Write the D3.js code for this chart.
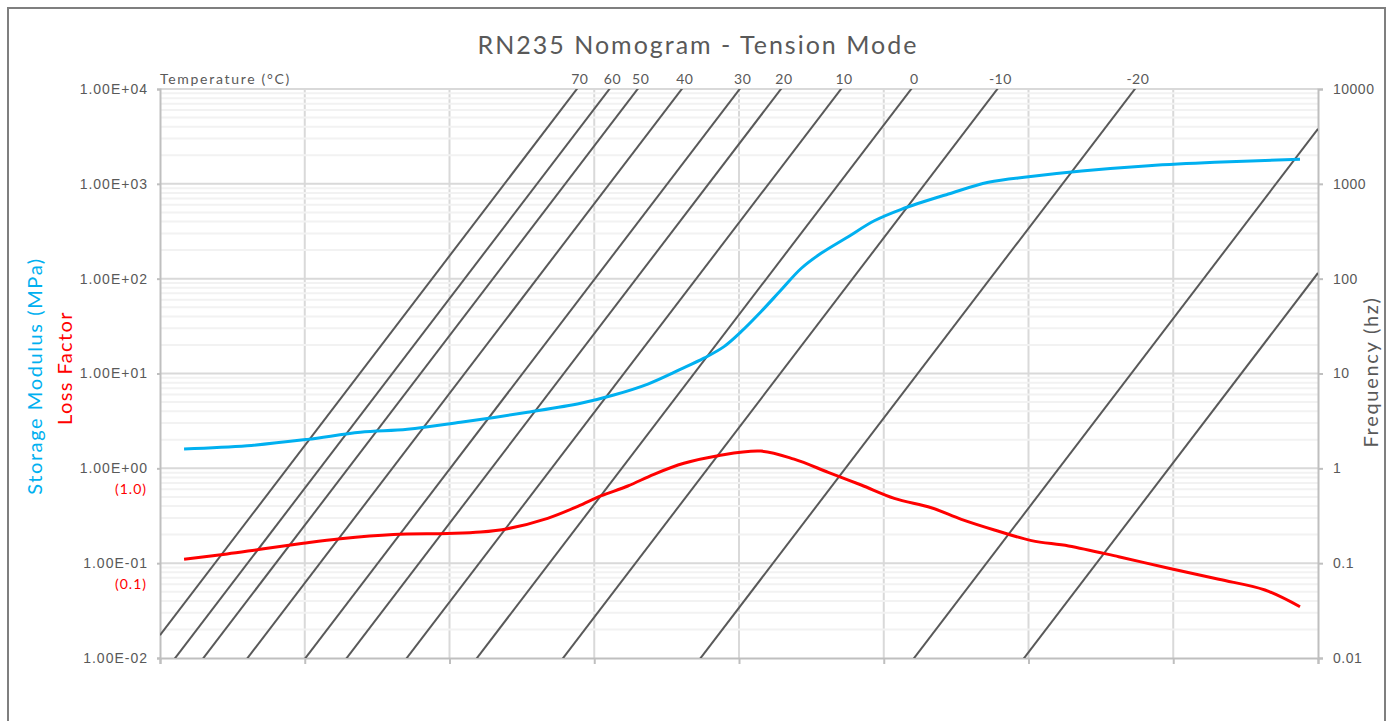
<!DOCTYPE html>
<html>
<head>
<meta charset="utf-8">
<script src="https://cdn.jsdelivr.net/npm/d3@7"></script>
<style>
  html, body { margin: 0; padding: 0; background: #fff; }
  svg { display: block; font-family: Lato, "Open Sans", sans-serif; }
</style>
</head>
<body>
<svg id="chart" width="1392" height="721"></svg>
<script>
// --- data ---
const leftTicks = [1e-2, 1e-1, 1e0, 1e1, 1e2, 1e3, 1e4];
const leftLabels = ['1.00E-02', '1.00E-01', '1.00E+00', '1.00E+01', '1.00E+02', '1.00E+03', '1.00E+04'];
const lossTicks = [1e-1, 1e0];
const lossLabels = ['(0.1)', '(1.0)'];
const rightLabels = ['0.01', '0.1', '1', '10', '100', '1000', '10000'];
const xGridTicks = [1e-8, 1e-6, 1e-4, 1e-2, 1e0, 1e2, 1e4, 1e6, 1e8];

// iso-temperature lines: temperature and log10 of shift factor aT
const temps = [70, 60, 50, 40, 30, 20, 10, 0, -10, -20, -30, -40];
const logShift = [-6.24, -5.79, -5.40, -4.79, -3.99, -3.42, -2.59, -1.62, -0.43, 1.47, 4.42, 5.94];

// storage modulus (MPa) vs reduced frequency
const modFreq = [2.15e-8, 1.60e-7, 1.08e-6, 5.86e-6, 2.62e-5, 1.42e-4, 1.20e-3, 6.50e-3, 1.86e-2, 5.50e-2,
  0.157, 0.328, 0.620, 1.07, 2.01, 3.81, 7.21, 13.6, 32.3, 74.0, 175, 782, 2790, 1.0e4, 5.42e4, 4.58e5, 3.75e6, 5.64e7];
const storageModulus = [1.60, 1.73, 2.02, 2.40, 2.58, 3.06, 3.90, 4.85, 5.93, 7.74,
  11.1, 14.5, 19.2, 27.6, 44.8, 75.9, 128, 185, 277, 408, 539, 781, 1038, 1189, 1366, 1553, 1687, 1814];

// loss factor vs reduced frequency
const lossFreq = [2.15e-8, 8.45e-8, 2.42e-7, 9.52e-7, 3.10e-6, 1.68e-5, 9.37e-5, 2.69e-4, 6.35e-4, 2.27e-3,
  5.92e-3, 1.23e-2, 2.91e-2, 6.67e-2, 0.173, 0.512, 2.01, 5.77, 17.1, 48.9,
  140, 454, 1183, 3380, 1.10e4, 3.58e4, 1.76e5, 8.67e5, 4.26e6, 1.85e7, 5.64e7];
const lossFactor = [0.110, 0.125, 0.140, 0.162, 0.181, 0.201, 0.206, 0.213, 0.231, 0.297,
  0.397, 0.511, 0.651, 0.865, 1.13, 1.36, 1.52, 1.25, 0.908, 0.667,
  0.483, 0.384, 0.290, 0.224, 0.173, 0.152, 0.117, 0.0883, 0.0676, 0.0521, 0.0347];

const grey = '#595959';
const svg = d3.select('#chart');

// chart border
svg.append('rect')
  .attr('x', 8).attr('y', 8)
  .attr('width', 1377).attr('height', 730)
  .attr('fill', '#fff')
  .attr('stroke', '#7f7f7f')
  .attr('stroke-width', 2);

const plotLeft = 160, plotRight = 1318, plotTop = 89, plotBottom = 658;

const x = d3.scaleLog().domain([1e-8, 1e8]).range([plotLeft, plotRight]);
const y = d3.scaleLog().domain([1e-2, 1e4]).range([plotBottom, plotTop]);

// vertical gridlines
svg.append('g')
  .selectAll('line')
  .data(xGridTicks.slice(1, -1))
  .join('line')
  .attr('x1', d => x(d)).attr('x2', d => x(d))
  .attr('y1', plotTop).attr('y2', plotBottom)
  .attr('stroke', '#d9d9d9')
  .attr('stroke-width', 2);

// minor horizontal gridlines
const minor = [];
for (let e = -2; e < 4; e++) {
  for (let k = 2; k <= 9; k++) minor.push(k * Math.pow(10, e));
}
svg.append('g')
  .selectAll('line')
  .data(minor)
  .join('line')
  .attr('x1', plotLeft).attr('x2', plotRight)
  .attr('y1', d => y(d)).attr('y2', d => y(d))
  .attr('stroke', '#f2f2f2')
  .attr('stroke-width', 2);

// major horizontal gridlines
svg.append('g')
  .selectAll('line')
  .data(leftTicks.slice(1))
  .join('line')
  .attr('x1', plotLeft).attr('x2', plotRight)
  .attr('y1', d => y(d)).attr('y2', d => y(d))
  .attr('stroke', '#d9d9d9')
  .attr('stroke-width', 2);

// axes
function styleAxis(g) {
  g.select('.domain').attr('stroke', '#bfbfbf').attr('stroke-width', 2);
  g.selectAll('.tick line').attr('stroke', '#bfbfbf').attr('stroke-width', 2);
  g.selectAll('.tick text').attr('fill', grey).style('font-size', '14px').style('letter-spacing', '1px');
}

svg.append('g')
  .attr('transform', `translate(0,${plotBottom})`)
  .call(d3.axisBottom(x).tickValues(xGridTicks).tickFormat('').tickSizeOuter(0).tickSize(6))
  .call(styleAxis);

svg.append('g')
  .attr('transform', `translate(${plotLeft},0)`)
  .call(d3.axisLeft(y).tickValues(leftTicks).tickFormat((d, i) => leftLabels[i]).tickSizeOuter(0).tickSize(3).tickPadding(9))
  .call(styleAxis);

svg.append('g')
  .attr('transform', `translate(${plotRight},0)`)
  .call(d3.axisRight(y).tickValues(leftTicks).tickFormat((d, i) => rightLabels[i]).tickSizeOuter(0).tickSize(5).tickPadding(10))
  .call(styleAxis)
  .call(g => g.selectAll('.tick text').style('letter-spacing', '0.5px'));

// loss factor tick labels in red under the left labels
svg.append('g')
  .selectAll('text')
  .data(lossTicks)
  .join('text')
  .attr('x', plotLeft - 13)
  .attr('y', d => y(d) + 26)
  .attr('text-anchor', 'end')
  .attr('fill', '#ff0000')
  .style('font-size', '14px')
  .style('letter-spacing', '1px')
  .text((d, i) => lossLabels[i]);

// clip region for iso-temperature lines
svg.append('clipPath').attr('id', 'plotClip')
  .append('rect')
  .attr('x', plotLeft).attr('y', plotTop)
  .attr('width', plotRight - plotLeft).attr('height', plotBottom - plotTop);

const isoLine = d3.line().x(d => x(d[0])).y(d => y(d[1]));
const iso = temps.map((t, i) => {
  const aT = Math.pow(10, logShift[i]);
  return { t, aT, pts: [[1e-8, 1e-8 / aT], [1e8, 1e8 / aT]] };
});

svg.append('g')
  .attr('clip-path', 'url(#plotClip)')
  .selectAll('path')
  .data(iso)
  .join('path')
  .attr('d', d => isoLine(d.pts))
  .attr('fill', 'none')
  .attr('stroke', grey)
  .attr('stroke-width', 2);

// temperature labels at top of each line
svg.append('g')
  .selectAll('text')
  .data(iso.filter(d => x(1e4 * d.aT) <= plotRight))
  .join('text')
  .attr('x', d => x(1e4 * d.aT) + 3)
  .attr('y', 84)
  .attr('text-anchor', 'middle')
  .attr('fill', grey)
  .style('font-size', '14px')
  .style('letter-spacing', '0.5px')
  .text(d => d.t);

svg.append('text')
  .attr('x', plotLeft).attr('y', 84)
  .attr('fill', grey)
  .style('font-size', '14px')
  .style('letter-spacing', '1.7px')
  .text('Temperature (°C)');

// data curves
const curve = d3.line().curve(d3.curveCatmullRom.alpha(0.5)).x(d => x(d[0])).y(d => y(d[1]));

svg.append('path')
  .datum(modFreq.map((f, i) => [f, storageModulus[i]]))
  .attr('d', curve)
  .attr('fill', 'none')
  .attr('stroke', '#00b0f0')
  .attr('stroke-width', 3);

svg.append('path')
  .datum(lossFreq.map((f, i) => [f, lossFactor[i]]))
  .attr('d', curve)
  .attr('fill', 'none')
  .attr('stroke', '#ff0000')
  .attr('stroke-width', 3);

// titles
svg.append('text')
  .attr('x', 698).attr('y', 54)
  .attr('text-anchor', 'middle')
  .attr('fill', grey)
  .style('font-size', '25px')
  .style('letter-spacing', '2px')
  .text('RN235 Nomogram - Tension Mode');

svg.append('text')
  .attr('transform', 'translate(42,376) rotate(-90)')
  .attr('text-anchor', 'middle')
  .attr('fill', '#00b0f0')
  .style('font-size', '20px')
  .style('letter-spacing', '1.6px')
  .text('Storage Modulus (MPa)');

svg.append('text')
  .attr('transform', 'translate(72,368) rotate(-90)')
  .attr('text-anchor', 'middle')
  .attr('fill', '#ff0000')
  .style('font-size', '20px')
  .style('letter-spacing', '1.4px')
  .text('Loss Factor');

svg.append('text')
  .attr('transform', 'translate(1378,372) rotate(-90)')
  .attr('text-anchor', 'middle')
  .attr('fill', grey)
  .style('font-size', '20px')
  .style('letter-spacing', '1.7px')
  .text('Frequency (hz)');
</script>
</body>
</html>
